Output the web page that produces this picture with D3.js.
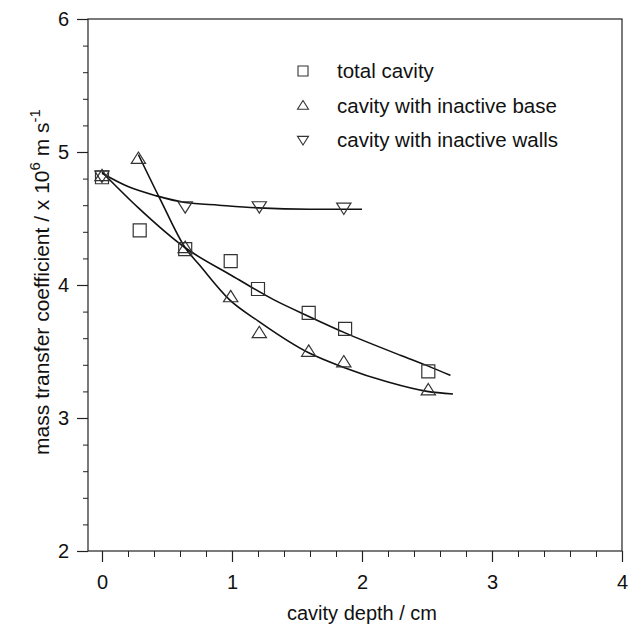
<!DOCTYPE html>
<html>
<head>
<meta charset="utf-8">
<script src="https://cdn.jsdelivr.net/npm/d3@7"></script>
<style>
  body { margin: 0; background: #fff; }
  text { font-family: "Liberation Sans", Arial, sans-serif; fill: #111; }
</style>
</head>
<body>
<div id="chart"></div>
<script>
// Measured points (cavity depth / cm, mass transfer coefficient / 1e-6 m s-1)
let totalX = [0, 0.29, 0.64, 0.99, 1.2, 1.59, 1.87, 2.51];
let totalY = [4.81, 4.41, 4.27, 4.18, 3.97, 3.79, 3.67, 3.35];
let baseX = [0, 0.28, 0.64, 0.99, 1.21, 1.59, 1.86, 2.51];
let baseY = [4.82, 4.95, 4.28, 3.91, 3.64, 3.50, 3.42, 3.21];
let wallsX = [0, 0.64, 1.21, 1.86];
let wallsY = [4.82, 4.59, 4.59, 4.58];

// Fitted curves
let totalFitX = [0, 0.28, 0.64, 1.0, 1.32, 1.6, 1.87, 2.3, 2.51, 2.68];
let totalFitY = [4.85, 4.58, 4.28, 4.07, 3.89, 3.76, 3.64, 3.47, 3.39, 3.32];
let baseFitX = [0.28, 0.45, 0.64, 0.75, 0.98, 1.2, 1.59, 1.86, 2.2, 2.5, 2.7];
let baseFitY = [4.98, 4.64, 4.28, 4.15, 3.89, 3.73, 3.49, 3.38, 3.27, 3.20, 3.18];
let wallsFitX = [0, 0.2, 0.42, 0.64, 0.9, 1.2, 1.6, 2.0];
let wallsFitY = [4.84, 4.74, 4.67, 4.62, 4.60, 4.58, 4.57, 4.57];

let xTicks = [0, 1, 2, 3, 4];
let yTicks = [2, 3, 4, 5, 6];
let legendLabels = ["total cavity", "cavity with inactive base", "cavity with inactive walls"];

let width = 630, height = 628;
let plotLeft = 88, plotRight = 622, plotTop = 19, plotBottom = 551;
let ink = "#222";
let font = "Liberation Sans, Arial, sans-serif";

let x = d3.scaleLinear().domain([0, 4]).range([102, 622]);
let y = d3.scaleLinear().domain([2, 6]).range([plotBottom, plotTop]);

let svg = d3.select("#chart").append("svg")
    .attr("width", width)
    .attr("height", height);

// Frame
svg.append("rect")
    .attr("x", plotLeft).attr("y", plotTop)
    .attr("width", plotRight - plotLeft).attr("height", plotBottom - plotTop)
    .attr("fill", "none").attr("stroke", ink).attr("stroke-width", 1.2);

// X axis: majors with labels, minors every 0.2
let xMinor = d3.range(0, 4.001, 0.2);
svg.append("g").attr("transform", "translate(0," + plotBottom + ")")
    .call(d3.axisBottom(x).tickValues(xMinor).tickSize(6).tickFormat(""))
    .call(g => g.select(".domain").remove())
    .call(g => g.selectAll("line").attr("stroke", ink));
svg.append("g").attr("transform", "translate(0," + plotBottom + ")")
    .call(d3.axisBottom(x).tickValues(xTicks).tickSize(11).tickPadding(13).tickFormat(d3.format("d")))
    .call(g => g.select(".domain").remove())
    .call(g => g.selectAll("line").attr("stroke", ink).attr("stroke-width", 1.2))
    .call(g => g.selectAll("text").attr("font-size", 20).attr("font-family", font).attr("fill", "#111"));

// Y axis
let yMinor = d3.range(2, 6.001, 0.2);
svg.append("g").attr("transform", "translate(" + plotLeft + ",0)")
    .call(d3.axisLeft(y).tickValues(yMinor).tickSize(5).tickFormat(""))
    .call(g => g.select(".domain").remove())
    .call(g => g.selectAll("line").attr("stroke", ink));
svg.append("g").attr("transform", "translate(" + plotLeft + ",0)")
    .call(d3.axisLeft(y).tickValues(yTicks).tickSize(11).tickPadding(8).tickFormat(d3.format("d")))
    .call(g => g.select(".domain").remove())
    .call(g => g.selectAll("line").attr("stroke", ink).attr("stroke-width", 1.2))
    .call(g => g.selectAll("text").attr("font-size", 20).attr("font-family", font).attr("fill", "#111"));

// Axis titles
svg.append("text")
    .attr("x", 362).attr("y", 620)
    .attr("text-anchor", "middle")
    .attr("font-size", 20)
    .text("cavity depth / cm");

let yTitle = svg.append("text")
    .attr("transform", "translate(49,282) rotate(-90)")
    .attr("text-anchor", "middle")
    .attr("font-size", 21);
yTitle.append("tspan").text("mass transfer coefficient / x 10");
yTitle.append("tspan").attr("dy", -9).attr("font-size", 15).text("6");
yTitle.append("tspan").attr("dy", 9).text(" m s");
yTitle.append("tspan").attr("dy", -9).attr("font-size", 15).text("-1");

// Curves
let line = d3.line().x(d => x(d[0])).y(d => y(d[1])).curve(d3.curveMonotoneX);
[[totalFitX, totalFitY], [baseFitX, baseFitY], [wallsFitX, wallsFitY]].forEach(function(s) {
    svg.append("path")
        .datum(d3.zip(s[0], s[1]))
        .attr("d", line)
        .attr("fill", "none")
        .attr("stroke", "#111")
        .attr("stroke-width", 1.6);
});

// Marker shapes
function markerPath(kind, r) {
    if (kind === "square") {
        return "M" + (-r) + "," + (-r) + "h" + (2 * r) + "v" + (2 * r) + "h" + (-2 * r) + "Z";
    }
    let h = r * 1.75;
    if (kind === "up") {
        return "M0," + (-h * 0.58) + "L" + r * 1.1 + "," + (h * 0.42) + "L" + (-r * 1.1) + "," + (h * 0.42) + "Z";
    }
    return "M0," + (h * 0.58) + "L" + r * 1.1 + "," + (-h * 0.42) + "L" + (-r * 1.1) + "," + (-h * 0.42) + "Z";
}

let series = [
    {xs: totalX, ys: totalY, kind: "square"},
    {xs: baseX, ys: baseY, kind: "up"},
    {xs: wallsX, ys: wallsY, kind: "down"}
];
series.forEach(function(s) {
    svg.append("g").selectAll("path")
        .data(d3.zip(s.xs, s.ys))
        .enter().append("path")
        .attr("transform", d => "translate(" + x(d[0]) + "," + y(d[1]) + ")")
        .attr("d", markerPath(s.kind, 6.5))
        .attr("fill", "none")
        .attr("stroke", "#333")
        .attr("stroke-width", 1.2);
});

// Legend
let legend = svg.append("g").attr("transform", "translate(303,71)");
let legendRows = legend.selectAll("g")
    .data(series)
    .enter().append("g")
    .attr("transform", (d, i) => "translate(0," + i * 34.5 + ")");
legendRows.append("path")
    .attr("d", d => markerPath(d.kind, 5))
    .attr("fill", "none")
    .attr("stroke", "#333")
    .attr("stroke-width", 1.1);
legendRows.append("text")
    .attr("x", 34).attr("y", 7)
    .attr("font-size", 20.5)
    .text((d, i) => legendLabels[i]);
</script>
</body>
</html>
